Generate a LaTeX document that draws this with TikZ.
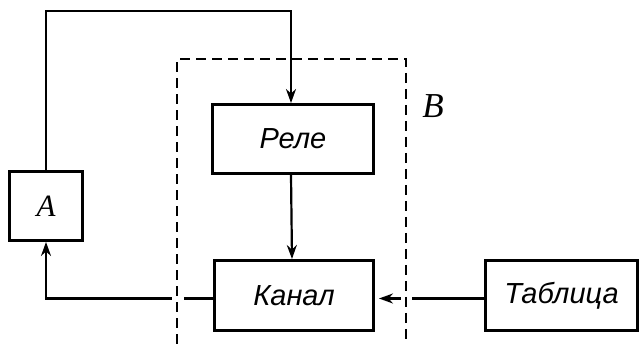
\documentclass[tikz,border=0pt]{standalone}
\usepackage{fontspec}
\newfontfamily\cyr{Liberation Sans}
\newfontfamily\lser{Liberation Serif}
\usetikzlibrary{arrows.meta}
\begin{document}
\begin{tikzpicture}[x=1pt,y=-1pt,
 box/.style={draw, line width=3pt, inner sep=0pt, anchor=north west},
 conn/.style={line width=2.2pt, -{Stealth[length=14pt,width=10pt]}},
 lbl/.style={font=\cyr\itshape\fontsize{29}{32}\selectfont},
 serif/.style={font=\lser\itshape\fontsize{31}{34}\selectfont}]
\useasboundingbox (0,0) rectangle (640,344);
\clip (0,0) rectangle (640,344);
\node[box, minimum width=161pt, minimum height=69pt, lbl] (rele) at (211,103) {Реле};
\node[box, minimum width=73pt, minimum height=69pt, serif] (a) at (8,170) {A};
\node[box, minimum width=159pt, minimum height=70pt, lbl] (kanal) at (213,259) {Канал};
\node[box, minimum width=152pt, minimum height=70pt, lbl] (tab) at (484,259) {Таблица};
\coordinate (top) at (0,11);
\draw[conn] (a.north) -- (a.north |- top) -| ([xshift=-2pt]rele.north);
\draw[conn] ([xshift=-2pt]rele.south) -- ([xshift=-2pt]kanal.north);
\draw[conn] ([yshift=-3pt]kanal.west) -| (a.south);
\draw[conn, shorten >=4pt] ([yshift=-3pt]tab.west) -- ([yshift=-3pt]kanal.east);
\fill[white] (172,288) rectangle (184,306);
\fill[white] (401,288) rectangle (412,306);
\draw[line width=2.2pt, dash pattern=on 10pt off 6pt] (177,360) -- (177,59) -- (406,59) -- (406,360);
\node[font=\lser\itshape\fontsize{35}{38}\selectfont] (b) at (433,106) {B};
\end{tikzpicture}
\end{document}
